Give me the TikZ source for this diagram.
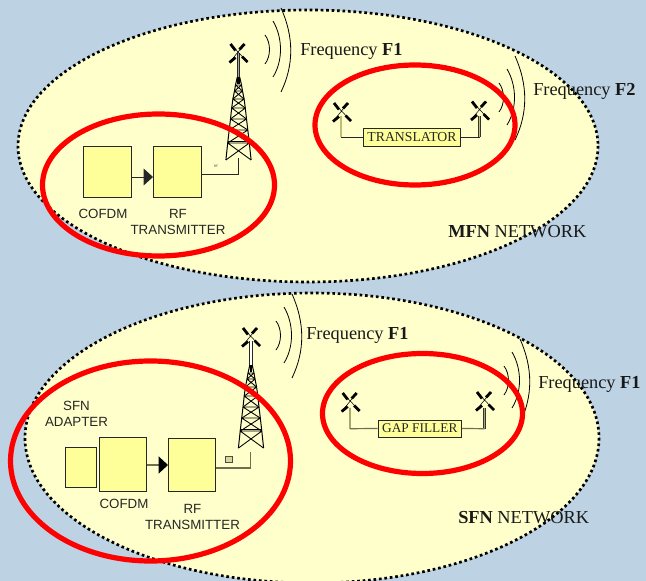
\documentclass[tikz,border=0pt]{standalone}
\usepackage{fontspec}
\setmainfont{Liberation Serif}
\setsansfont{Liberation Sans}
\usetikzlibrary{arrows.meta}
\definecolor{bgblue}{HTML}{BDD2E3}
\definecolor{cellfill}{HTML}{FFFFCC}
\definecolor{boxfill}{HTML}{FFFF99}
\definecolor{ringred}{HTML}{FF0000}
\definecolor{olivewire}{HTML}{6E6E50}
\tikzset{
  cell/.style={draw=black,fill=cellfill,line width=2pt,dash pattern=on 2pt off 2.1pt},
  ring/.style={draw=ringred,line width=3.9pt},
  block/.style={draw=black!85,fill=boxfill,line width=0.75pt,inner sep=0pt,anchor=north west},
  wire/.style={draw=black!85,line width=0.7pt},
  wireb/.style={draw=olivewire,line width=0.9pt},
  wave/.style={draw=black,line width=0.6pt},
  caption/.style={font=\sffamily\fontsize{10}{11}\selectfont,text=black!85,inner sep=0pt,align=center},
  freq/.style={font=\fontsize{13.75}{15}\selectfont,text=black!90,inner sep=0pt,anchor=west},
  boxlabel/.style={block,anchor=center,align=center,text=black!85},
  pics/antennax/.style={code={
    \draw[black,line width=0.4pt] (-8,-9) -- (9,9) (6,-9) -- (-9,9.5);
    \draw[black,line width=2.1pt] (-8,-9) -- (-3,-2.5) (3.5,3.5) -- (9,9) (6,-9) -- (1,-3.5) (-3,4.5) -- (-9,9.5);
  }},
  pics/towermast/.style={code={
    \draw[black!85,line width=2.4pt] (0,-24) -- (0,0);
    \draw[#1,line width=1.2pt] (0,-24) -- (0,0);
    \draw[black,line width=2pt] (0,0) -- (0,7);
    \draw[black,line width=0.75pt] (-1.2,0) -- (-3,8) -- (-4,14) -- (-5.6,22) -- (-6.8,31) -- (-8,42) -- (-9.3,53) -- (-10.8,66) -- (-12.6,83);
    \draw[black,line width=0.75pt] (1.2,0) -- (3,8) -- (4,14) -- (5.6,22) -- (6.8,31) -- (8,42) -- (9.3,53) -- (10.8,66) -- (12.6,83);
    \foreach \ya/\wa/\yb/\wb in {8/3/14/4,14/4/22/5.6,22/5.6/31/6.8,31/6.8/42/8,42/8/53/9.3,53/9.3/66/10.8,66/10.8/83/12.6}{
      \draw[black,line width=0.65pt] (-\wa,\ya) -- (\wb,\yb) (\wa,\ya) -- (-\wb,\yb) (-\wa,\ya) -- (\wa,\ya);
    }
    \draw[black,line width=0.65pt] (-10.4,64) -- (10.4,64);
  }},
  pics/smallmast/.style={code={
    \draw[black!80,line width=2.2pt] (0,-21) -- (0,0);
    \draw[#1,line width=1.1pt] (0,-21) -- (0,0);
  }}
}
\newcommand{\wavesat}[2]{%
  \begin{scope}[shift={(#1,#2)}]
    \draw[wave] (0,0) .. controls (6,8) and (6,21) .. (0,29);
    \draw[wave] (8,-14) .. controls (18,3) and (18,26) .. (8,42);
    \draw[wave] (16,-27) .. controls (29,2) and (29,30) .. (16,57);
  \end{scope}}
\begin{document}
\begin{tikzpicture}[x=0.75pt,y=-0.75pt]
\useasboundingbox (0,0) rectangle (646,581);
\clip (0,0) rectangle (646,581);
\fill[bgblue] (0,0) rectangle (646,581);
% network cells
\path[cell] (308,146) ellipse [x radius=290,y radius=136];
\path[cell] (312,438) ellipse [x radius=287,y radius=145];

% ---------- MFN ----------
\node[block,minimum width=36pt,minimum height=38pt] (cofdmA) at (83,146) {};
\node[block,minimum width=36pt,minimum height=38pt] (rfA) at (153,146) {};
\draw[wire,-{Triangle[length=7pt,width=12.5pt]}] (cofdmA.east |- 0,177) coordinate (aout) -- (rfA.west |- aout);
\node[caption] (cofdmAt) at (103,214) {COFDM};
\node[caption] (rfAt) at (178,222) {RF\\[1pt]TRANSMITTER};
\pic at (238.5,77) {towermast=black!35};
\pic at (238.5,53) {antennax};
\coordinate (baseA) at (238.5,158);
\draw[wire] (rfA.east |- 0,174.5) -| (baseA);
\node[font=\sffamily\fontsize{2.5}{3}\selectfont,text=black!70,inner sep=0pt] (rfmarkA) at (216,166) {RF};
\wavesat{265}{35}
\node[freq] (f1a) at (300,51.5) {Frequency \textbf{F1}};

\node[boxlabel,minimum width=73pt,minimum height=13.5pt,font=\fontsize{10.3}{11}\selectfont] (trans) at (412,137.3) {TRANSLATOR};
\pic at (341,137.3) {smallmast=boxfill!75!black};
\pic at (479.5,137.3) {smallmast=boxfill!75!black};
\pic at (342,112) {antennax};
\pic at (480,110.5) {antennax};
\coordinate (tl) at (341,137.3);
\coordinate (tr) at (479.5,137.3);
\draw[wire] (trans.west) -- (tl);
\draw[wire] (trans.east) -- (tr);
\wavesat{499}{83}
\node[freq] (f2) at (533,91.5) {Frequency \textbf{F2}};
\node[freq] (mfn) at (448,232) {\textbf{MFN} NETWORK};

% ---------- SFN ----------
\node[block,minimum width=23pt,minimum height=30pt] (adapter) at (65,447) {};
\node[block,minimum width=35pt,minimum height=40.5pt] (cofdmB) at (99,437) {};
\node[block,minimum width=35pt,minimum height=40pt] (rfB) at (168,438) {};
\draw[wireb,-{Triangle[length=7pt,width=12.7pt,color=black]}] (cofdmB.east |- 0,465) coordinate (bout) -- (rfB.west |- bout);
\node[caption] (adaptert) at (76.5,414) {SFN\\[1pt]ADAPTER};
\node[caption] (cofdmBt) at (124,504) {COFDM};
\node[caption] (rfBt) at (192.5,517) {RF\\[1pt]TRANSMITTER};
\begin{scope}[yscale=1.06]
\pic at (251,344.4) {towermast=white};
\end{scope}
\pic at (251,337) {antennax};
\coordinate (baseB) at (250.5,452);
\draw[wireb] (rfB.east |- 0,468) -| (baseB);
\node[draw=black!70,fill=boxfill!70!gray,minimum width=5pt,minimum height=4.5pt,inner sep=0pt,line width=0.5pt] (rfmarkB) at (229,459) {};
\wavesat{276}{321}
\node[freq] (f1b) at (306,335.5) {Frequency \textbf{F1}};

\node[boxlabel,minimum width=62.5pt,minimum height=12.75pt,font=\fontsize{10}{11}\selectfont] (gap) at (419.8,428.5) {GAP FILLER};
\pic at (350,428.7) {smallmast=olivewire!60!boxfill};
\pic at (484.7,428.7) {smallmast=olivewire!60!boxfill};
\pic at (350.7,402) {antennax};
\pic at (485,401) {antennax};
\coordinate (gl) at (350,428.7);
\coordinate (gr) at (484.7,428.7);
\draw[wireb] (gap.west) -- (gl);
\draw[wireb] (gap.east) -- (gr);
\wavesat{504}{366}
\node[freq] (f1c) at (538,384.5) {Frequency \textbf{F1}};
\node[freq] (sfn) at (458,518) {\textbf{SFN} NETWORK};

% ---------- red rings ----------
\path[ring] (158.5,185) ellipse [x radius=116,y radius=71];
\path[ring] (415,125) ellipse [x radius=100,y radius=60];
\path[ring] (150.5,461) ellipse [x radius=140,y radius=100];
\path[ring] (422.5,413.5) ellipse [x radius=100,y radius=60];
\end{tikzpicture}
\end{document}
